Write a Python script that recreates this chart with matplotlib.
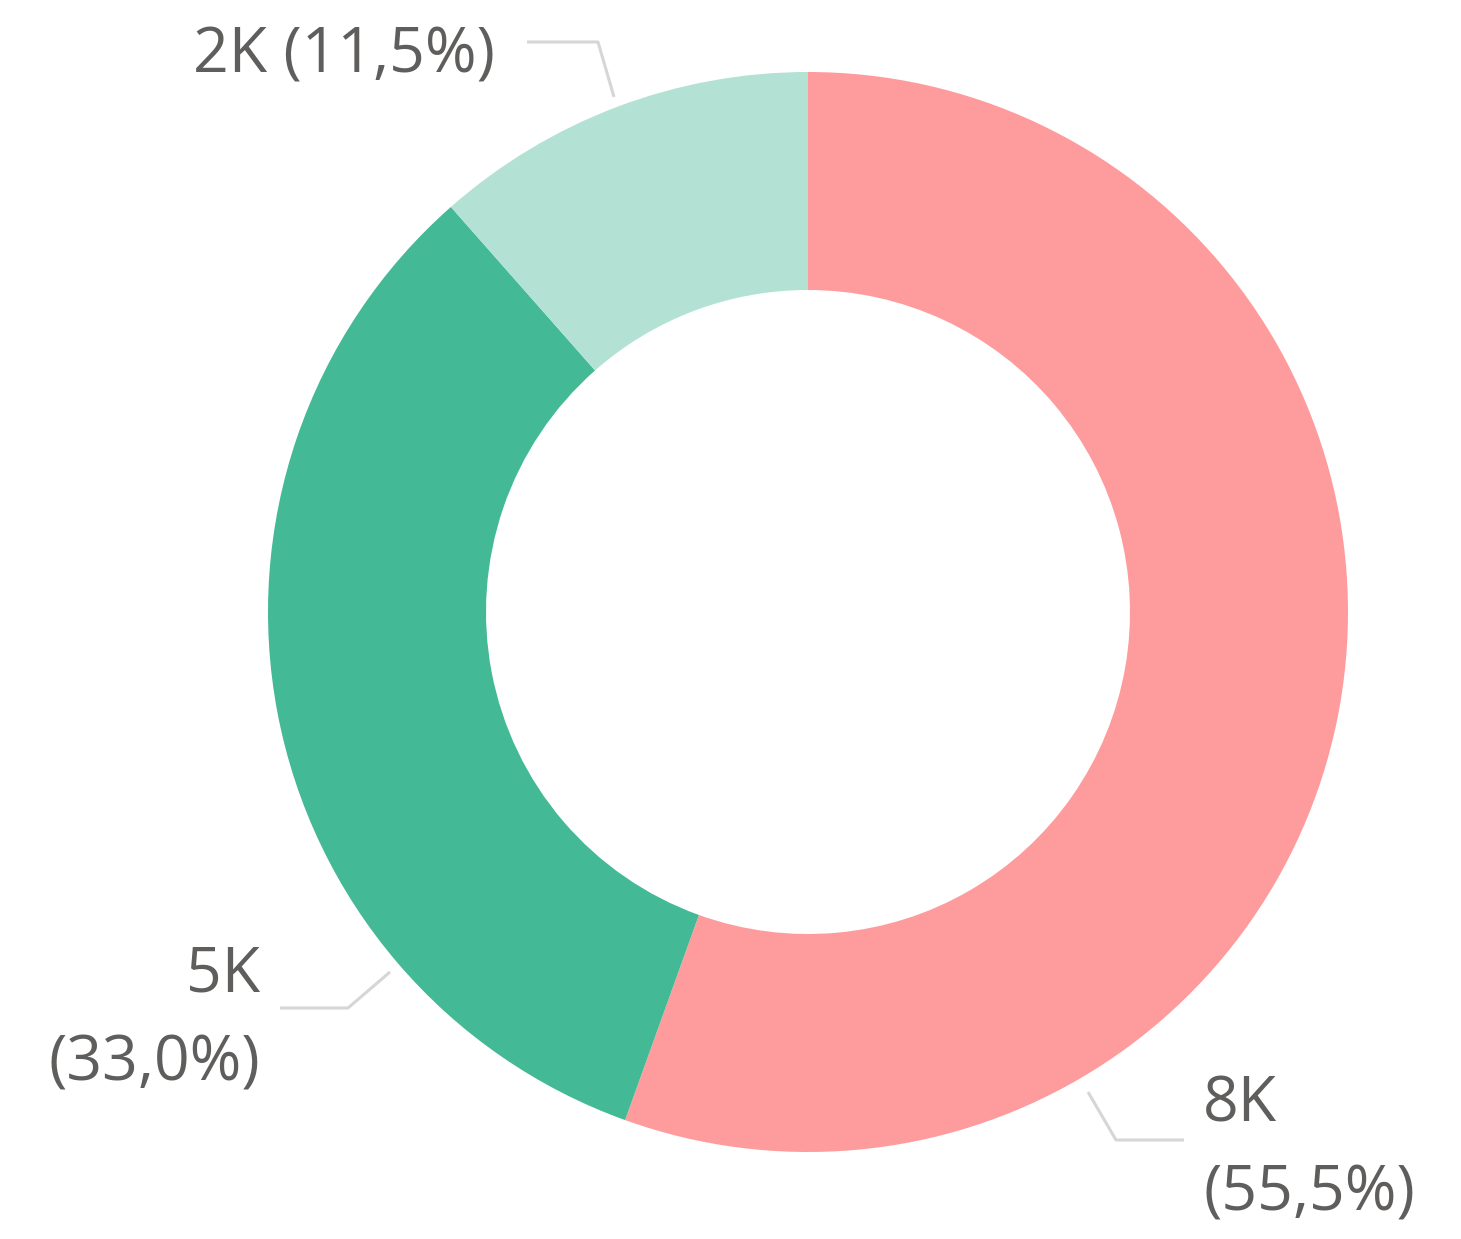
import matplotlib.pyplot as plt

# donut data (values in thousands, share in %)
labels = ["8K", "5K", "2K"]
shares = [55.5, 33.0, 11.5]
share_text = ["55,5%", "33,0%", "11,5%"]
colors = ["#FE9B9C", "#43B996", "#B3E2D4"]

W, H = 1461, 1239
TXT = "#605E5C"
LINE = "#D6D6D6"

fig = plt.figure(figsize=(W / 100, H / 100), dpi=100)
ax = fig.add_axes([0, 0, 1, 1])
ax.set_xlim(0, W)
ax.set_ylim(0, H)
ax.set_aspect("equal")
ax.axis("off")

cx, cy = 808, H - 612
r_out, r_in = 540, 322
ax.pie(shares, colors=colors, startangle=90, counterclock=False,
       radius=r_out, center=(cx, cy), frame=True,
       wedgeprops=dict(width=r_out - r_in, linewidth=0))
ax.set_xlim(0, W)
ax.set_ylim(0, H)
ax.axis("off")

font = dict(family=["Open Sans", "DejaVu Sans"], fontsize=45, color=TXT)

# leader lines (pixel coords, y from top)
leaders = [
    [(1088, 1092), (1116, 1140), (1184, 1140)],
    [(390, 972), (348, 1008), (280, 1008)],
    [(614, 97), (598, 42), (527, 42)],
]
for pts in leaders:
    ax.plot([p[0] for p in pts], [H - p[1] for p in pts], color=LINE, lw=2.2,
            solid_capstyle="butt", zorder=1)

# 8K
ax.text(1203, H - 1122, labels[0], ha="left", va="baseline", **font)
ax.text(1203, H - 1210, f"({share_text[0]})", ha="left", va="baseline", **font)
# 5K
ax.text(260, H - 992, labels[1], ha="right", va="baseline", **font)
ax.text(260, H - 1080, f"({share_text[1]})", ha="right", va="baseline", **font)
# 2K
ax.text(193, H - 72, f"{labels[2]} ({share_text[2]})", ha="left", va="baseline", **font)

fig.savefig("out.png", dpi=100)
